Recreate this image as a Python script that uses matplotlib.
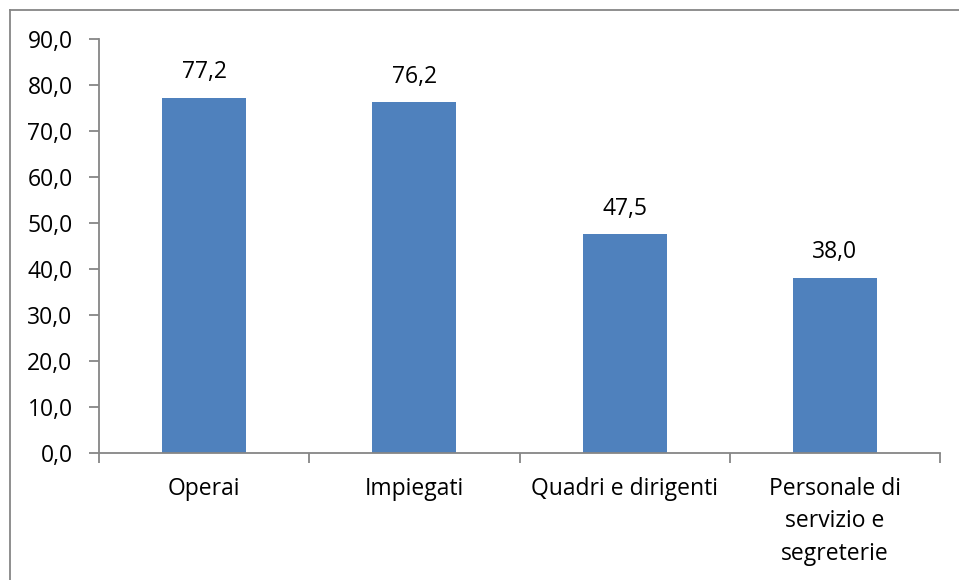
import numpy as np
import matplotlib.pyplot as plt
from matplotlib.lines import Line2D

categories = ['Operai', 'Impiegati', 'Quadri e dirigenti', 'Personale di\nservizio e\nsegreterie']
values = [77.2, 76.2, 47.5, 38.0]
yticks = np.arange(0, 91, 10)


def fmt(v):
    return f'{v:.1f}'.replace('.', ',')


def main():
    plt.rcParams['font.family'] = ['Open Sans', 'DejaVu Sans']
    fig = plt.figure(figsize=(9.59, 5.80), dpi=100)
    ax = fig.add_axes([99 / 959, 1 - 453 / 580, (940 - 99) / 959, (453 - 39) / 580])

    x = np.arange(len(categories))
    ax.bar(x, values, width=0.4, color='#4F81BD', zorder=2)
    for xi, v in zip(x, values):
        ax.annotate(fmt(v), (xi, v), xytext=(0, 10), textcoords='offset points',
                    ha='center', va='bottom', fontsize=16.5, color='black')

    ax.set_xlim(-0.5, len(categories) - 0.5)
    ax.set_ylim(0, 90)
    ax.set_yticks(yticks)
    ax.set_yticklabels([fmt(t) for t in yticks])
    ax.set_xticks(x)
    ax.set_xticklabels(categories, linespacing=1.47)
    ax.set_xticks(np.arange(-0.5, len(categories), 1.0), minor=True)

    gray = '#868686'
    for side in ['top', 'right']:
        ax.spines[side].set_visible(False)
    for side in ['left', 'bottom']:
        ax.spines[side].set_color(gray)
        ax.spines[side].set_linewidth(1.3)
    ax.tick_params(axis='y', length=7, width=1.3, color=gray, pad=12, labelsize=16.5)
    ax.tick_params(axis='x', which='major', length=0, pad=17, labelsize=16.5)
    ax.tick_params(axis='x', which='minor', length=7, width=1.3, color=gray)

    # chart area border
    fig.add_artist(Line2D([9.5 / 959, 9.5 / 959], [0, 1 - 9.5 / 580], color=gray, lw=1.3))
    fig.add_artist(Line2D([9.5 / 959, 1], [1 - 9.5 / 580, 1 - 9.5 / 580], color=gray, lw=1.3))

    fig.savefig('out.png', dpi=100)


if __name__ == '__main__':
    main()
